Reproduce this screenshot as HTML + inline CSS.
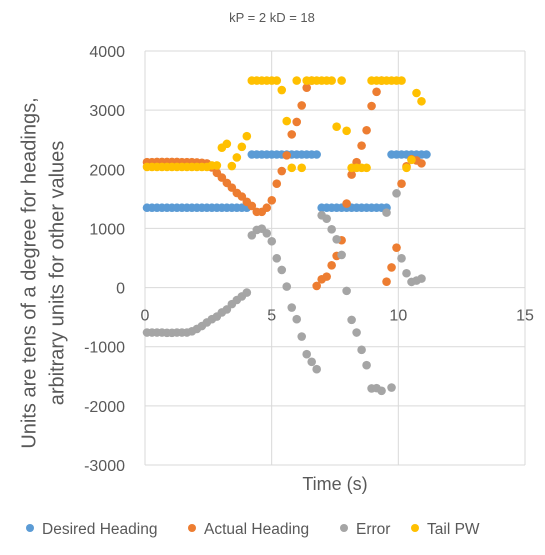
<!DOCTYPE html>
<html><head><meta charset="utf-8"><style>
body{margin:0;background:#fff;}
svg text{font-family:"Liberation Sans",sans-serif;}
</style></head><body>
<svg id="chart" width="545" height="550" xmlns="http://www.w3.org/2000/svg">
<rect width="545" height="550" fill="#fff"/>
<text x="272" y="22" font-size="13" fill="#595959" text-anchor="middle">kP = 2 kD = 18</text>
<g id="grid"></g>
<g id="ylabels"></g>
<g id="xlabels"></g>
<g id="marks"></g>
<g transform="translate(30,273) rotate(-90)">
<text x="0" y="0" font-size="20" fill="#595959" text-anchor="middle" dominant-baseline="middle">Units are tens of  a degree for headings,</text>
<text x="0" y="28" font-size="20" fill="#595959" text-anchor="middle" dominant-baseline="middle">arbitrary units for other values</text>
</g>
<text x="335" y="490" font-size="18" fill="#595959" text-anchor="middle">Time (s)</text>
<g id="legend"></g>
</svg>
<script>
const yTicks=[4000,3000,2000,1000,0,-1000,-2000,-3000];
const xTicks=[0,5,10,15];
const seriesNames=["Desired Heading","Actual Heading","Error","Tail PW"];
const seriesColors=["#5B9BD5","#ED7D31","#A5A5A5","#FFC000"];
const desired=[1350,1350,1350,1350,1350,1350,1350,1350,1350,1350,1350,1350,1350,1350,1350,1350,1350,1350,1350,1350,1350,
2250,2250,2250,2250,2250,2250,2250,2250,2250,2250,2250,2250,2250,2250,
1350,1350,1350,1350,1350,1350,1350,1350,1350,1350,1350,1350,1350,1350,
2250,2250,2250,2250,2250,2250,2250,2250];
const actual=[2120,2120,2125,2125,2125,2125,2125,2120,2120,2120,2115,2110,2100,2030,1940,1860,1770,1690,1600,1540,1450,
1380,1280,1280,1350,1475,1756,1970,2235,2590,2800,3080,3380,3500,28,140,185,377,535,800,1420,1910,2120,2400,2660,3070,3310,3500,100,340,675,1756,2050,2170,2150,2100];
const error=[-760,-760,-760,-760,-765,-765,-760,-760,-760,-740,-700,-650,-590,-535,-490,-420,-370,-280,-210,-150,-85,
884,974,996,918,783,495,298,17,-338,-535,-828,-1126,-1255,-1380,1222,1165,985,816,552,-56,-546,-760,-1053,-1312,-1706,-1700,-1745,1267,-1690,1593,495,242,96,118,152];
const tailpw=[2040,2040,2040,2040,2040,2040,2040,2040,2040,2040,2040,2040,2040,2065,2065,2365,2430,2055,2200,2380,2560,
3500,3500,3500,3500,3500,3500,3340,2815,2025,3500,2025,3500,3500,3500,3500,3500,3500,2720,3500,2650,2025,2025,2025,2025,3500,3500,3500,3500,3500,3500,3500,2025,2160,3290,3150];
const series=[desired,actual,error,tailpw];
const NS="http://www.w3.org/2000/svg";
const L=145,R=525,T=51,B=465;
const xs=t=>L+(t/15)*(R-L);
const ys=v=>T+(4000-v)/7000*(B-T);
const tOf=i=>0.079+0.197*i;
function mk(tag,attrs,parent){const e=document.createElementNS(NS,tag);for(const k in attrs)e.setAttribute(k,attrs[k]);parent.appendChild(e);return e;}
const grid=document.getElementById('grid');
yTicks.forEach(v=>{const l=mk('line',{x1:L,x2:R,y1:ys(v),y2:ys(v),stroke:'#d9d9d9','stroke-width':1},grid);


const t=mk('text',{x:125,y:ys(v)+6,'font-size':16,fill:'#595959','text-anchor':'end'},document.getElementById('ylabels'));t.textContent=v;

});
xTicks.forEach(v=>{const l=mk('line',{x1:xs(v),x2:xs(v),y1:T,y2:B,stroke:'#d9d9d9','stroke-width':1},grid);


const t=mk('text',{x:xs(v),y:ys(0)+33,'font-size':16,fill:'#595959','text-anchor':'middle'},document.getElementById('xlabels'));t.textContent=v;

});
const marks=document.getElementById('marks');
series.forEach((arr,s)=>{arr.forEach((v,i)=>{const c=mk('circle',{cx:xs(tOf(i)),cy:ys(v),r:4.3,fill:seriesColors[s]},marks);

});});
const leg=document.getElementById('legend');
const lx=[30,192,344,415];
seriesNames.forEach((n,s)=>{const c=mk('circle',{cx:lx[s],cy:528,r:4,fill:seriesColors[s]},leg);


const t=mk('text',{x:lx[s]+12,y:534,'font-size':15.5,fill:'#595959'},leg);t.textContent=n;

});
</script>
</body></html>
